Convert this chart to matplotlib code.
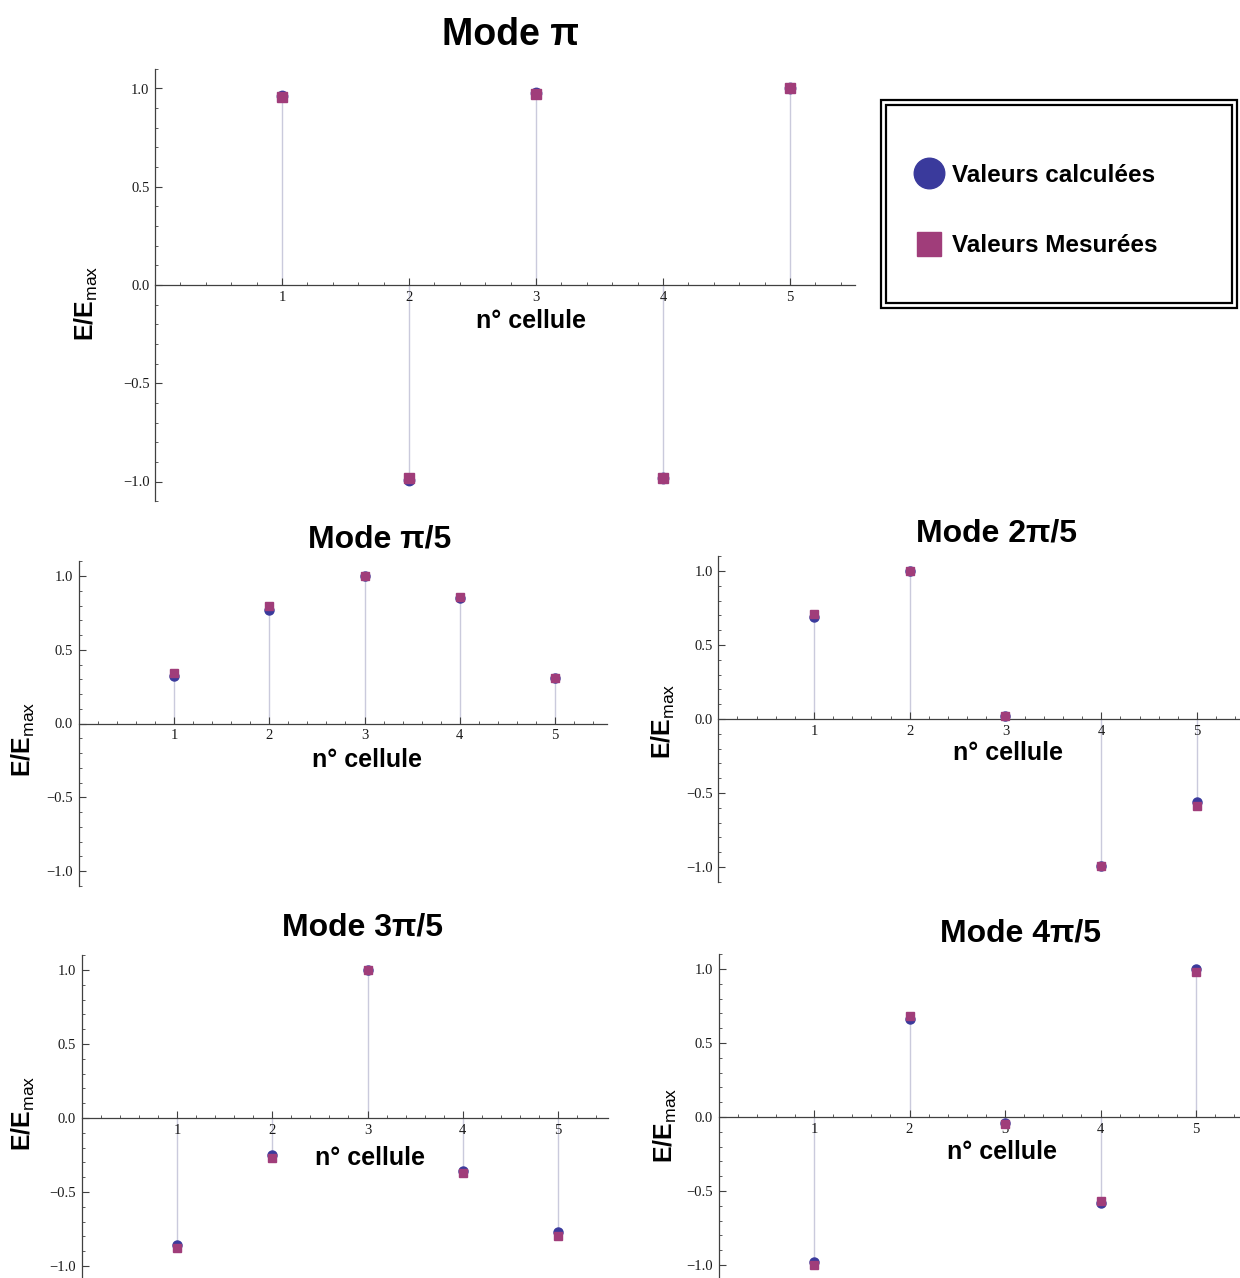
import matplotlib
matplotlib.use("Agg")
import matplotlib.pyplot as plt
from matplotlib.lines import Line2D
from matplotlib.patches import Rectangle
from matplotlib.ticker import MultipleLocator

plt.rcParams['font.family'] = ['Liberation Sans', 'DejaVu Sans']
plt.rcParams['mathtext.fontset'] = 'custom'
plt.rcParams['mathtext.rm'] = 'Liberation Sans'
plt.rcParams['mathtext.bf'] = 'Liberation Sans:bold'

# ---------------- data ----------------
cells = [1, 2, 3, 4, 5]

titles = ["Mode π", "Mode π/5", "Mode 2π/5", "Mode 3π/5", "Mode 4π/5"]

calc_pi = [0.96, -0.99, 0.975, -0.98, 1.0]
meas_pi = [0.955, -0.98, 0.97, -0.98, 1.0]

calc_pi5 = [0.32, 0.77, 1.0, 0.85, 0.31]
meas_pi5 = [0.34, 0.80, 1.0, 0.86, 0.31]

calc_2pi5 = [0.69, 1.0, 0.02, -0.99, -0.56]
meas_2pi5 = [0.71, 1.0, 0.02, -0.99, -0.59]

calc_3pi5 = [-0.86, -0.25, 1.0, -0.36, -0.77]
meas_3pi5 = [-0.88, -0.27, 1.0, -0.37, -0.80]

calc_4pi5 = [-0.98, 0.66, -0.04, -0.58, 1.0]
meas_4pi5 = [-1.0, 0.68, -0.05, -0.57, 0.98]

yticks = [-1.0, -0.5, 0.0, 0.5, 1.0]
ytick_labels = ["\u22121.0", "\u22120.5", "0.0", "0.5", "1.0"]
xtick_labels = ["1", "2", "3", "4", "5"]

legend_labels = ["Valeurs calculées", "Valeurs Mesurées"]
xlabel_text = "n° cellule"
ylabel_text = r"E/$\mathbf{E}_{\mathrm{max}}$"

# ---------------- style ----------------
W, H = 1240, 1278
DPI = 100
calc_color = "#3a3a9c"
meas_color = "#a03d7a"
stem_color = "#cacadc"
axis_color = "#404040"

fig = plt.figure(figsize=(W / DPI, H / DPI), dpi=DPI)


def px_axes(x0px, ppx, xmax, y0px, ppy, ylim=1.1):
    left = x0px
    right = x0px + xmax * ppx
    top = y0px - ylim * ppy
    bottom = y0px + ylim * ppy
    ax = fig.add_axes([left / W, 1 - bottom / H, (right - left) / W, (bottom - top) / H])
    ax.set_xlim(0, xmax)
    ax.set_ylim(-ylim, ylim)
    return ax


def draw_panel(ax, calc, meas, ms_c, ms_m):
    ax.patch.set_alpha(0)
    for s in ("top", "right"):
        ax.spines[s].set_visible(False)
    ax.spines["bottom"].set_position(("data", 0))
    for s in ("left", "bottom"):
        ax.spines[s].set_color(axis_color)
        ax.spines[s].set_linewidth(0.9)
    ax.vlines(cells, 0, calc, color=stem_color, lw=1.0, zorder=1)
    ax.plot(cells, calc, "o", color=calc_color, ms=ms_c, mec=calc_color, zorder=3, clip_on=False)
    ax.plot(cells, meas, "s", color=meas_color, ms=ms_m, mec=meas_color, zorder=4, clip_on=False)
    ax.set_xticks(cells, labels=xtick_labels)
    ax.set_yticks(yticks, labels=ytick_labels)
    ax.xaxis.set_minor_locator(MultipleLocator(0.2))
    ax.yaxis.set_minor_locator(MultipleLocator(0.1))
    ax.tick_params(which="major", direction="in", length=5, width=0.8, color=axis_color,
                   labelsize=10.5, pad=4)
    ax.tick_params(which="minor", direction="in", length=2.5, width=0.6, color=axis_color)
    for lab in ax.get_xticklabels() + ax.get_yticklabels():
        lab.set_fontfamily("Liberation Serif")
        lab.set_color("#1a1a1a")


def fig_text(xpx, ypx, s, **kw):
    fig.text(xpx / W, 1 - ypx / H, s, ha="center", va="center", **kw)


# panel geometry (pixel anchors) and data
panels = [
    dict(geom=(155, 127, 5.51, 285, 196.5), calc=calc_pi, meas=meas_pi, ms=(7.5, 6.5),
         title=(510, 35, 27), xl=(531, 321), yl=(86, 303)),
    dict(geom=(78.75, 95.25, 5.55, 723.5, 147.5), calc=calc_pi5, meas=meas_pi5, ms=(6.5, 5.5),
         title=(380, 540, 23), xl=(367, 760), yl=(23, 739)),
    dict(geom=(718.25, 95.75, 5.45, 719, 148), calc=calc_2pi5, meas=meas_2pi5, ms=(6.5, 5.5),
         title=(997, 533, 23), xl=(1008, 753), yl=(663, 721)),
    dict(geom=(81.75, 95.25, 5.52, 1118, 148), calc=calc_3pi5, meas=meas_3pi5, ms=(6.5, 5.5),
         title=(362, 928, 23), xl=(370, 1158), yl=(23, 1113)),
    dict(geom=(718.5, 95.5, 5.45, 1117, 148), calc=calc_4pi5, meas=meas_4pi5, ms=(6.5, 5.5),
         title=(1020, 934, 23), xl=(1002, 1152), yl=(665, 1125)),
]

for p, t in zip(panels, titles):
    ax = px_axes(*p["geom"])
    draw_panel(ax, p["calc"], p["meas"], *p["ms"])
    tx, ty, tfs = p["title"]
    fig_text(tx, ty, t, fontsize=tfs, fontweight="bold")
    fig_text(p["xl"][0], p["xl"][1], xlabel_text, fontsize=18, fontweight="bold")
    fig_text(p["yl"][0], p["yl"][1], ylabel_text, fontsize=18, fontweight="bold", rotation=90)

# legend with double frame
outer = Rectangle((881 / W, 1 - 308 / H), (1237 - 881) / W, (308 - 100) / H,
                  transform=fig.transFigure, fill=False, ec="black", lw=1.6)
inner = Rectangle((886 / W, 1 - 303 / H), (1232 - 886) / W, (303 - 105) / H,
                  transform=fig.transFigure, fill=False, ec="black", lw=1.6)
fig.add_artist(outer)
fig.add_artist(inner)

handles = [
    Line2D([], [], marker="o", ls="", ms=22, color=calc_color),
    Line2D([], [], marker="s", ls="", ms=17, color=meas_color),
]
fig.legend(handles, legend_labels, loc="upper left",
           bbox_to_anchor=(912 / W, 1 - 164 / H), frameon=False,
           prop=dict(family="Liberation Sans", weight="bold", size=17.5),
           handlelength=1.4, handletextpad=0.25, labelspacing=1.95,
           borderpad=0, borderaxespad=0)

fig.savefig("out.png", dpi=DPI)
